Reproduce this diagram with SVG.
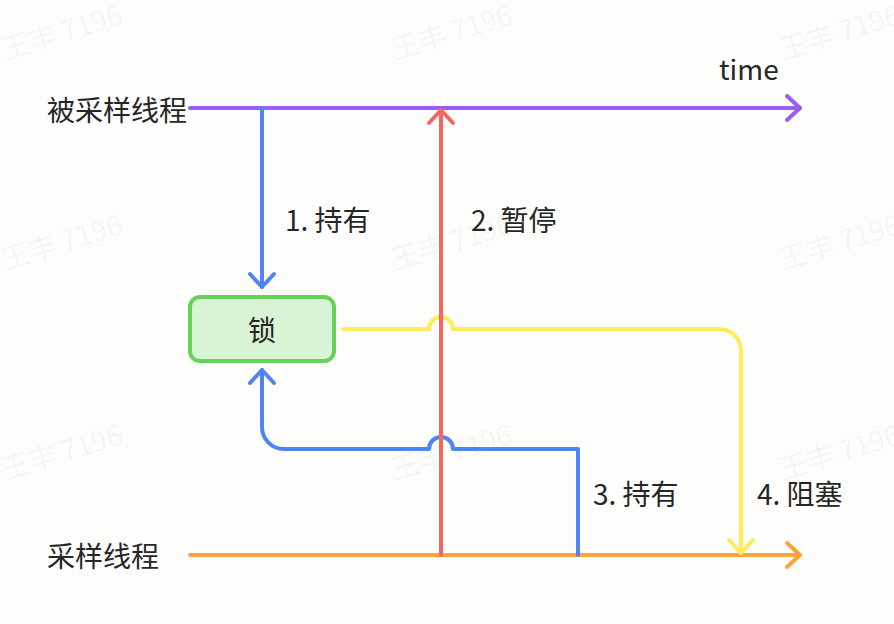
<svg xmlns="http://www.w3.org/2000/svg" width="894" height="624" viewBox="0 0 894 624">
<style>
.t{font-family:"Noto Sans CJK SC","Noto Sans",sans-serif;font-size:28px;fill:#262626}
.wm{font-family:"Noto Sans CJK SC","Noto Sans",sans-serif;font-size:28px;fill:#000;fill-opacity:0.05}
.ln{fill:none;stroke-width:4;stroke-linecap:round;stroke-linejoin:round}
</style>
<defs>
<marker id="aP" markerUnits="userSpaceOnUse" viewBox="-16 -16 20 32" markerWidth="20" markerHeight="32" refX="0" refY="0" orient="auto" overflow="visible"><path d="M-13,-12 L0,0 L-13,12" fill="none" stroke="#9a5cf5" stroke-width="4" stroke-linecap="round" stroke-linejoin="round"/></marker>
<marker id="aO" markerUnits="userSpaceOnUse" viewBox="-16 -16 20 32" markerWidth="20" markerHeight="32" refX="0" refY="0" orient="auto" overflow="visible"><path d="M-13,-12 L0,0 L-13,12" fill="none" stroke="#fda33b" stroke-width="4" stroke-linecap="round" stroke-linejoin="round"/></marker>
<marker id="aB" markerUnits="userSpaceOnUse" viewBox="-16 -16 20 32" markerWidth="20" markerHeight="32" refX="0" refY="0" orient="auto" overflow="visible"><path d="M-13,-12 L0,0 L-13,12" fill="none" stroke="#5083f6" stroke-width="4" stroke-linecap="round" stroke-linejoin="round"/></marker>
<marker id="aR" markerUnits="userSpaceOnUse" viewBox="-16 -16 20 32" markerWidth="20" markerHeight="32" refX="0" refY="0" orient="auto" overflow="visible"><path d="M-13,-12 L0,0 L-13,12" fill="none" stroke="#f4675f" stroke-width="4" stroke-linecap="round" stroke-linejoin="round"/></marker>
<marker id="aY" markerUnits="userSpaceOnUse" viewBox="-16 -16 20 32" markerWidth="20" markerHeight="32" refX="0" refY="0" orient="auto" overflow="visible"><path d="M-13,-12 L0,0 L-13,12" fill="none" stroke="#ffeb55" stroke-width="4" stroke-linecap="round" stroke-linejoin="round"/></marker>
</defs>
<rect width="894" height="624" fill="#fdfdfc"/>
<g id="watermarks">
<text class="wm" transform="translate(5,60) rotate(-17)">王丰 7196</text>
<text class="wm" transform="translate(395,60) rotate(-17)">王丰 7196</text>
<text class="wm" transform="translate(783,60) rotate(-17)">王丰 7196</text>
<text class="wm" transform="translate(5,270) rotate(-17)">王丰 7196</text>
<text class="wm" transform="translate(395,270) rotate(-17)">王丰 7196</text>
<text class="wm" transform="translate(783,270) rotate(-17)">王丰 7196</text>
<text class="wm" transform="translate(5,480) rotate(-17)">王丰 7196</text>
<text class="wm" transform="translate(395,480) rotate(-17)">王丰 7196</text>
<text class="wm" transform="translate(783,480) rotate(-17)">王丰 7196</text>
</g>
<g id="connectors">
<path id="sampled-thread" class="ln" stroke="#9a5cf5" d="M190,108 H800" marker-end="url(#aP)"/>
<path id="sampler-thread" class="ln" stroke="#fda33b" d="M190,555 H800" marker-end="url(#aO)"/>
<path id="hold1" class="ln" stroke="#5083f6" d="M262,108 V287" marker-end="url(#aB)"/>
<path id="block4" class="ln" stroke="#ffeb55" d="M343,329 H429 A12,12 0 0 1 453,329 H719 A22,22 0 0 1 741,351 V553" marker-end="url(#aY)"/>
<path id="hold3" class="ln" stroke="#5083f6" d="M578,555 V449 H453 A12,12 0 0 0 429,449 H284 A22,22 0 0 1 262,427 V370" marker-end="url(#aB)"/>
<path id="pause2" class="ln" stroke="#f4675f" d="M441,555 V110" marker-end="url(#aR)"/>
</g>
<g id="lock">
<rect x="190" y="297" width="144" height="64" rx="10" fill="#d9f4d5" stroke="#66d25a" stroke-width="4"/>
<text class="t" x="262" y="341" text-anchor="middle">锁</text>
</g>
<g id="labels">
<text class="t" x="47" y="121">被采样线程</text>
<text class="t" x="47" y="567">采样线程</text>
<text class="t" x="719" y="80">time</text>
<text class="t" x="285" y="231">1. 持有</text>
<text class="t" x="471" y="231">2. 暂停</text>
<text class="t" x="593" y="505">3. 持有</text>
<text class="t" x="757" y="505">4. 阻塞</text>
</g>
</svg>
